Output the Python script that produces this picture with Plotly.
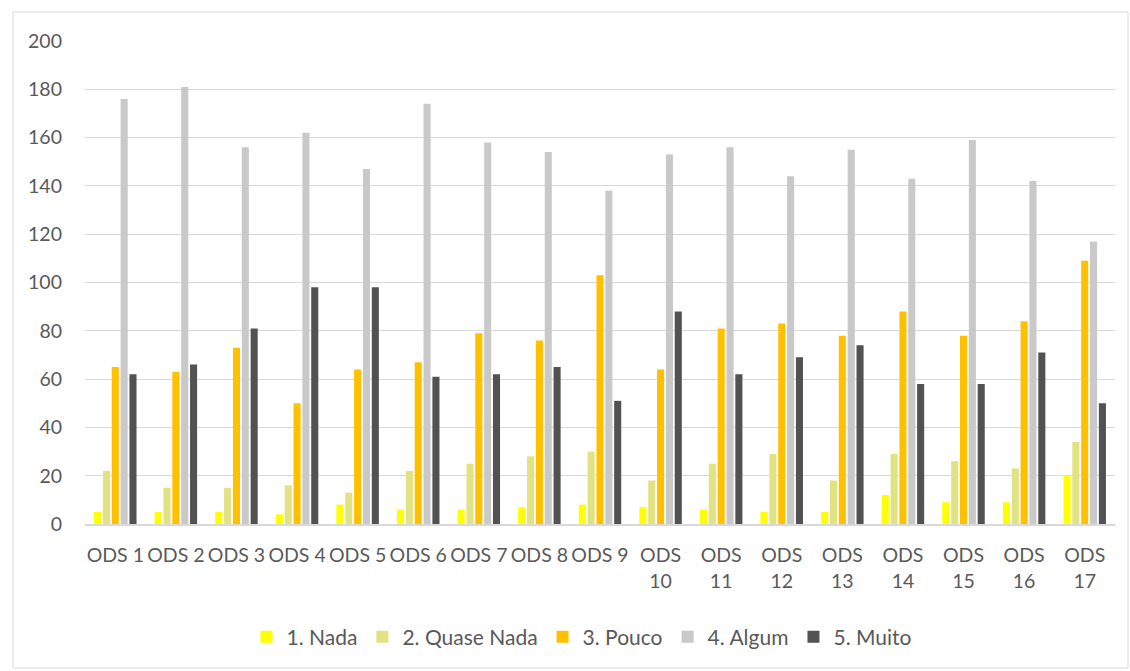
import plotly.graph_objects as go

categories = ["ODS 1", "ODS 2", "ODS 3", "ODS 4", "ODS 5", "ODS 6", "ODS 7", "ODS 8", "ODS 9",
              "ODS<br>10", "ODS<br>11", "ODS<br>12", "ODS<br>13", "ODS<br>14", "ODS<br>15", "ODS<br>16", "ODS<br>17"]
nada = [5, 5, 5, 4, 8, 6, 6, 7, 8, 7, 6, 5, 5, 12, 9, 9, 20]
quase_nada = [22, 15, 15, 16, 13, 22, 25, 28, 30, 18, 25, 29, 18, 29, 26, 23, 34]
pouco = [65, 63, 73, 50, 64, 67, 79, 76, 103, 64, 81, 83, 78, 88, 78, 84, 109]
algum = [176, 181, 156, 162, 147, 174, 158, 154, 138, 153, 156, 144, 155, 143, 159, 142, 117]
muito = [62, 66, 81, 98, 98, 61, 62, 65, 51, 88, 62, 69, 74, 58, 58, 71, 50]

series = [
    ("1. Nada", nada, "#FFFF00"),
    ("2. Quase Nada", quase_nada, "#E1E383"),
    ("3. Pouco", pouco, "#FFC000"),
    ("4. Algum", algum, "#C9C9C9"),
    ("5. Muito", muito, "#525252"),
]

W, H = 1130, 671
L, R, T, B = 85, 1115, 41, 524

fig = go.Figure()
for name, vals, color in series:
    fig.add_trace(go.Bar(x=categories, y=vals, name=name, marker_color=color,
                         marker_line_width=0))

fig.update_layout(
    width=W, height=H,
    barmode="group", bargap=0.27, bargroupgap=0.2,
    margin=dict(l=L, r=W - R, t=T, b=H - B, pad=0),
    paper_bgcolor="white", plot_bgcolor="white",
    font=dict(family="Lato, Carlito, Calibri, sans-serif", size=19, color="#595959"),
    showlegend=True,
    legend=dict(orientation="h", x=(582 - L) / (R - L), xanchor="center",
                y=(B - 637) / (B - T), yanchor="middle",
                font=dict(size=21, color="#595959"), itemwidth=30,
                traceorder="normal"),
    xaxis=dict(showgrid=False, showline=True, linecolor="#D9D9D9", linewidth=1.5,
               ticks="", tickangle=0, ticklabelstandoff=13,
               tickfont=dict(size=19.5, color="#595959")),
    yaxis=dict(range=[0, 200], dtick=20, showgrid=True, gridcolor="#D9D9D9", gridwidth=1.3,
               zeroline=False, showline=False, ticks="",
               ticklabelstandoff=22, tickfont=dict(size=19.5, color="#595959")),
)

# chart border
fig.add_shape(type="rect", xref="paper", yref="paper",
              x0=(13 - L) / (R - L), x1=(1128 - L) / (R - L),
              y0=(B - 668) / (B - T), y1=(B - 12) / (B - T),
              line=dict(color="#D9D9D9", width=1), fillcolor="rgba(0,0,0,0)", layer="below")

fig.write_html("out.html", config={"displayModeBar": False},
               post_script="document.body.style.margin='0';document.body.style.overflow='hidden';")
